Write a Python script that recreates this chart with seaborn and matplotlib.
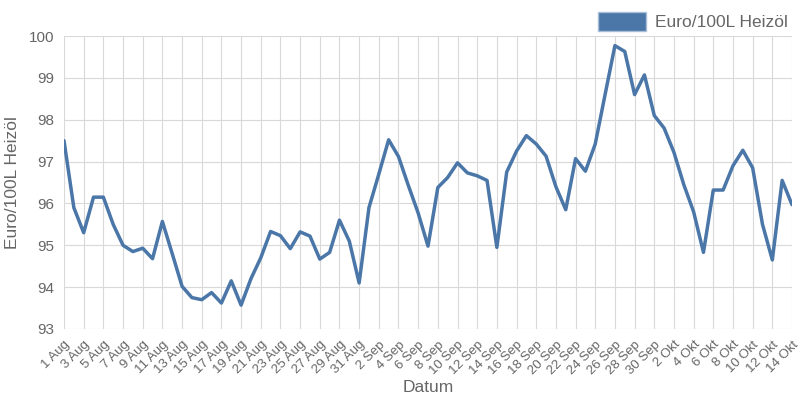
import numpy as np
import pandas as pd
import matplotlib
matplotlib.use("Agg")
import matplotlib.pyplot as plt
import seaborn as sns
from matplotlib.patches import Patch

# Heizöl prices per day, 1 Aug - 14 Okt
dates = pd.date_range("2023-08-01", "2023-10-14", freq="D")
prices = [
    97.5, 95.9, 95.3, 96.15, 96.15, 95.5, 95.0, 94.85, 94.93, 94.68,
    95.57, 94.8, 94.02, 93.75, 93.7, 93.87, 93.62, 94.15, 93.57, 94.2,
    94.7, 95.33, 95.23, 94.92, 95.32, 95.22, 94.67, 94.83, 95.6, 95.1,
    94.1,
    95.9, 96.7, 97.52, 97.12, 96.43, 95.77, 94.98, 96.38, 96.62, 96.97,
    96.73, 96.66, 96.55, 94.95, 96.75, 97.25, 97.62, 97.42, 97.13, 96.4,
    95.85, 97.07, 96.77, 97.42, 98.6, 99.77, 99.63, 98.6, 99.07, 98.1,
    97.8, 97.22, 96.45, 95.8, 94.83, 96.32, 96.32, 96.9, 97.27, 96.85,
    95.5, 94.65, 96.55, 95.97,
]
month_names = {8: "Aug", 9: "Sep", 10: "Okt"}
series_label = "Euro/100L Heizöl"

df = pd.DataFrame({"day": np.arange(len(dates)), "price": prices})
tick_pos = df["day"][::2]
tick_labels = [f"{d.day} {month_names[d.month]}" for d in dates[::2]]

line_color = "#4a76a8"
text_color = "#666666"
grid_color = "#d9d9d9"

sns.set_style("white")
plt.rcParams["font.family"] = ["Liberation Sans", "DejaVu Sans"]

fig, ax = plt.subplots(figsize=(8, 4), dpi=100)
fig.subplots_adjust(left=0.08, right=0.99, top=0.91, bottom=0.1775)

sns.lineplot(data=df, x="day", y="price", ax=ax, color=line_color,
             linewidth=2.5, legend=False)

ax.set_xlim(df["day"].min(), df["day"].max())
ax.set_ylim(93, 100)
ax.set_xticks(tick_pos)
ax.set_xticklabels(tick_labels, rotation=45, ha="right", rotation_mode="anchor",
                   fontsize=9.5, color=text_color)
ax.set_yticks(range(93, 101))
ax.set_yticklabels([str(v) for v in range(93, 101)], fontsize=11, color=text_color)
ax.tick_params(axis="both", length=5, color=grid_color, width=0.8, pad=2)
ax.grid(True, color=grid_color, linewidth=0.8)
ax.set_axisbelow(True)
for s in ax.spines.values():
    s.set_visible(False)

ax.set_xlabel("Datum", fontsize=12.5, color=text_color, labelpad=2)
ax.set_ylabel(series_label, fontsize=12.5, color=text_color, labelpad=6)

handle = Patch(facecolor=line_color, edgecolor="#a9bfd8", label=series_label)
fig.legend(handles=[handle], loc="upper right", bbox_to_anchor=(1.0, 1.0),
           frameon=False, fontsize=12.5, handlelength=2.8, handleheight=1.3,
           handletextpad=0.5, labelcolor=text_color, borderaxespad=0.3)

fig.savefig("out.png", dpi=100)
